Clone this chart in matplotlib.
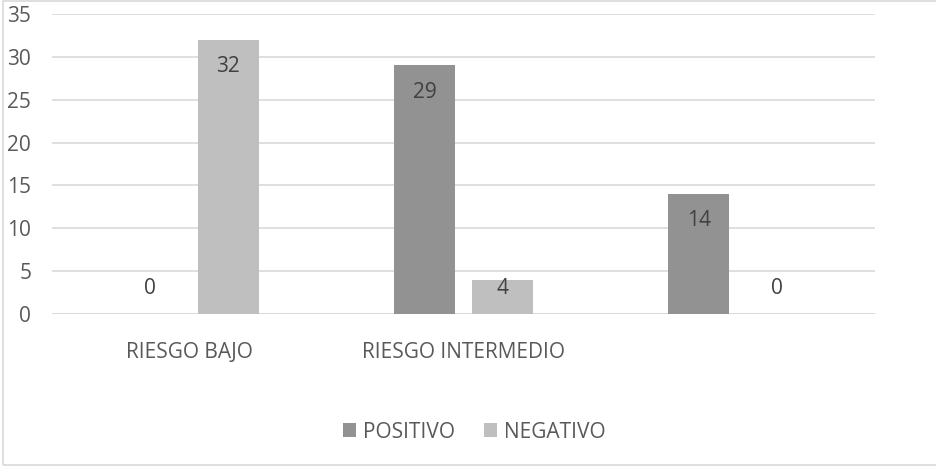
import numpy as np
import matplotlib.pyplot as plt
from matplotlib.patches import Rectangle

# datos del grafico
categorias = ["RIESGO BAJO", "RIESGO INTERMEDIO", ""]
positivo = [0, 29, 14]
negativo = [32, 4, 0]

color_pos = "#929292"
color_neg = "#bfbfbf"
color_texto = "#595959"
fs = 15

plt.rcParams['font.family'] = ['Open Sans', 'DejaVu Sans']

fig = plt.figure(figsize=(9.37, 4.68), dpi=100)
ax = fig.add_axes([52/937, 1 - 314/468, (875-52)/937, 300/468])

x = np.arange(len(categorias))
ancho = 0.2226
sep = 0.1423

b1 = ax.bar(x - sep, positivo, ancho, color=color_pos, label="POSITIVO", zorder=3)
b2 = ax.bar(x + sep, negativo, ancho, color=color_neg, label="NEGATIVO", zorder=3)

ax.set_xlim(-0.5, 2.5)
ax.set_ylim(0, 35)

# etiquetas de valor: dentro del extremo, sin bajar de un minimo sobre la base
ppu = 300 / 35
for barras, valores in [(b1, positivo), (b2, negativo)]:
    for r, v in zip(barras, valores):
        cx = r.get_x() + r.get_width()/2
        dy = max(v*ppu - 27, 25)
        ax.annotate(str(v), (cx, 0), xytext=(0, dy), textcoords="offset pixels",
                    ha="center", va="center", fontsize=fs, color="#404040", zorder=4)

ax.set_yticks(range(0, 36, 5))
ax.set_xticks(x)
ax.set_xticklabels(categorias)
ax.yaxis.grid(True, color="#d9d9d9", linewidth=1.2, zorder=0)
for s in ax.spines.values():
    s.set_visible(False)
ax.tick_params(axis="both", length=0, labelsize=fs, labelcolor=color_texto)
ax.tick_params(axis="y", pad=15)
ax.tick_params(axis="x", pad=20)
ax.axhline(0, color="#d9d9d9", linewidth=1.2, zorder=2)

ax.legend(loc="center", bbox_to_anchor=(474/937, 1 - 432/468), bbox_transform=fig.transFigure,
          ncol=2, frameon=False, fontsize=fs, labelcolor=color_texto,
          handlelength=0.65, handleheight=0.65, handletextpad=0.3, columnspacing=1.4)

# borde del area del grafico
fig.add_artist(Rectangle((3/937, 3/468), 1.0, 1 - 4/468, transform=fig.transFigure,
                         fill=False, edgecolor="#d9d9d9", linewidth=1.2))

fig.savefig("out.png", dpi=100)
